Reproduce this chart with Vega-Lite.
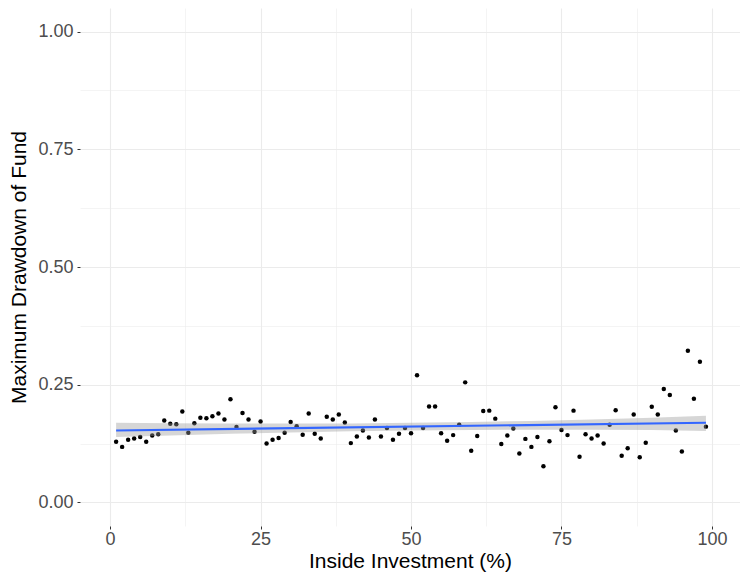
{
  "$schema": "https://vega.github.io/schema/vega-lite/v6.json",
  "width": 660,
  "height": 518,
  "autosize": {"type": "none"},
  "padding": {"left": 80, "top": 8, "right": 0, "bottom": 48},
  "background": "white",
  "config": {
    "view": {"stroke": null},
    "font": "Liberation Sans",
    "axis": {
      "domain": false,
      "gridColor": "#EBEBEB",
      "tickColor": "#333333",
      "tickSize": 3,
      "tickWidth": 1,
      "labelColor": "#4D4D4D",
      "labelFontSize": 18,
      "labelFont": "Liberation Sans",
      "titleFont": "Liberation Sans",
      "titleFontSize": 21,
      "titleFontWeight": "normal",
      "titleColor": "#000000"
    }
  },
  "datasets": {
    "pts": [
      {"x": 1, "y": 0.129}, {"x": 2, "y": 0.118}, {"x": 3, "y": 0.133}, {"x": 4, "y": 0.136}, {"x": 5, "y": 0.139},
      {"x": 6, "y": 0.129}, {"x": 7, "y": 0.142}, {"x": 8, "y": 0.145}, {"x": 9, "y": 0.174}, {"x": 10, "y": 0.167},
      {"x": 11, "y": 0.166}, {"x": 12, "y": 0.193}, {"x": 13, "y": 0.148}, {"x": 14, "y": 0.168}, {"x": 15, "y": 0.180},
      {"x": 16, "y": 0.179}, {"x": 17, "y": 0.183}, {"x": 18, "y": 0.189}, {"x": 19, "y": 0.176}, {"x": 20, "y": 0.219},
      {"x": 21, "y": 0.160}, {"x": 22, "y": 0.190}, {"x": 23, "y": 0.176}, {"x": 24, "y": 0.150}, {"x": 25, "y": 0.172},
      {"x": 26, "y": 0.125}, {"x": 27, "y": 0.133}, {"x": 28, "y": 0.137}, {"x": 29, "y": 0.148}, {"x": 30, "y": 0.171},
      {"x": 31, "y": 0.162}, {"x": 32, "y": 0.144}, {"x": 33, "y": 0.189}, {"x": 34, "y": 0.146}, {"x": 35, "y": 0.136},
      {"x": 36, "y": 0.182}, {"x": 37, "y": 0.176}, {"x": 38, "y": 0.187}, {"x": 39, "y": 0.170}, {"x": 40, "y": 0.126},
      {"x": 41, "y": 0.140}, {"x": 42, "y": 0.153}, {"x": 43, "y": 0.138}, {"x": 44, "y": 0.176}, {"x": 45, "y": 0.140},
      {"x": 46, "y": 0.158}, {"x": 47, "y": 0.133}, {"x": 48, "y": 0.146}, {"x": 49, "y": 0.158}, {"x": 50, "y": 0.147},
      {"x": 51, "y": 0.270}, {"x": 52, "y": 0.158}, {"x": 53, "y": 0.204}, {"x": 54, "y": 0.204}, {"x": 55, "y": 0.147},
      {"x": 56, "y": 0.131}, {"x": 57, "y": 0.143}, {"x": 58, "y": 0.165}, {"x": 59, "y": 0.255}, {"x": 60, "y": 0.110},
      {"x": 61, "y": 0.141}, {"x": 62, "y": 0.194}, {"x": 63, "y": 0.195}, {"x": 64, "y": 0.178}, {"x": 65, "y": 0.124},
      {"x": 66, "y": 0.142}, {"x": 67, "y": 0.157}, {"x": 68, "y": 0.104}, {"x": 69, "y": 0.135}, {"x": 70, "y": 0.118},
      {"x": 71, "y": 0.139}, {"x": 72, "y": 0.077}, {"x": 73, "y": 0.130}, {"x": 74, "y": 0.202}, {"x": 75, "y": 0.154},
      {"x": 76, "y": 0.143}, {"x": 77, "y": 0.195}, {"x": 78, "y": 0.097}, {"x": 79, "y": 0.145}, {"x": 80, "y": 0.136},
      {"x": 81, "y": 0.142}, {"x": 82, "y": 0.125}, {"x": 83, "y": 0.165}, {"x": 84, "y": 0.196}, {"x": 85, "y": 0.099},
      {"x": 86, "y": 0.115}, {"x": 87, "y": 0.187}, {"x": 88, "y": 0.096}, {"x": 89, "y": 0.127}, {"x": 90, "y": 0.203},
      {"x": 91, "y": 0.187}, {"x": 92, "y": 0.241}, {"x": 93, "y": 0.228}, {"x": 94, "y": 0.153}, {"x": 95, "y": 0.108},
      {"x": 96, "y": 0.322}, {"x": 97, "y": 0.220}, {"x": 98, "y": 0.299}, {"x": 99, "y": 0.161}
    ],
    "band": [
      {"x": 1, "lo": 0.139, "hi": 0.169},
      {"x": 10, "lo": 0.1423, "hi": 0.1683},
      {"x": 20, "lo": 0.1457, "hi": 0.1677},
      {"x": 30, "lo": 0.1488, "hi": 0.1674},
      {"x": 40, "lo": 0.1513, "hi": 0.1679},
      {"x": 50, "lo": 0.1530, "hi": 0.1690},
      {"x": 60, "lo": 0.1541, "hi": 0.1707},
      {"x": 70, "lo": 0.1546, "hi": 0.1732},
      {"x": 80, "lo": 0.1543, "hi": 0.1763},
      {"x": 90, "lo": 0.1537, "hi": 0.1797},
      {"x": 99, "lo": 0.1520, "hi": 0.1840}
    ]
  },
  "layer": [
    {
      "data": {"name": "pts"},
      "mark": {"type": "circle", "color": "#000000", "size": 20, "opacity": 1},
      "encoding": {
        "x": {
          "field": "x", "type": "quantitative", "title": "Inside Investment (%)",
          "scale": {"domain": [-5, 104.66], "nice": false, "zero": false},
          "axis": {
            "values": [0, 12.5, 25, 37.5, 50, 62.5, 75, 87.5, 100],
            "format": "d",
            "labelExpr": "datum.value % 25 === 0 ? datum.label : ''",
            "tickColor": {"condition": {"test": "datum.value % 25 === 0", "value": "#333333"}, "value": "transparent"},
            "gridWidth": {"condition": {"test": "datum.value % 25 === 0", "value": 1.1}, "value": 0.55},
            "labelPadding": 1,
            "titlePadding": 2
          }
        },
        "y": {
          "field": "y", "type": "quantitative", "title": "Maximum Drawdown of Fund",
          "scale": {"domain": [-0.05, 1.05], "nice": false, "zero": false},
          "axis": {
            "values": [0, 0.125, 0.25, 0.375, 0.5, 0.625, 0.75, 0.875, 1],
            "format": ".2f",
            "labelExpr": "(datum.value * 4) % 1 === 0 ? datum.label : ''",
            "tickColor": {"condition": {"test": "(datum.value * 4) % 1 === 0", "value": "#333333"}, "value": "transparent"},
            "gridWidth": {"condition": {"test": "(datum.value * 4) % 1 === 0", "value": 1.1}, "value": 0.55},
            "labelPadding": 4,
            "titlePadding": 8
          }
        }
      }
    },
    {
      "data": {"name": "band"},
      "mark": {"type": "area", "color": "#999999", "opacity": 0.4},
      "encoding": {
        "x": {"field": "x", "type": "quantitative", "title": "Inside Investment (%)"},
        "y": {"field": "lo", "type": "quantitative", "title": "Maximum Drawdown of Fund"},
        "y2": {"field": "hi"}
      }
    },
    {
      "data": {"name": "pts"},
      "transform": [{"regression": "y", "on": "x", "extent": [1, 99]}],
      "mark": {"type": "line", "color": "#3366FF", "strokeWidth": 2.1},
      "encoding": {
        "x": {"field": "x", "type": "quantitative", "title": "Inside Investment (%)"},
        "y": {"field": "y", "type": "quantitative", "title": "Maximum Drawdown of Fund"}
      }
    }
  ]
}
